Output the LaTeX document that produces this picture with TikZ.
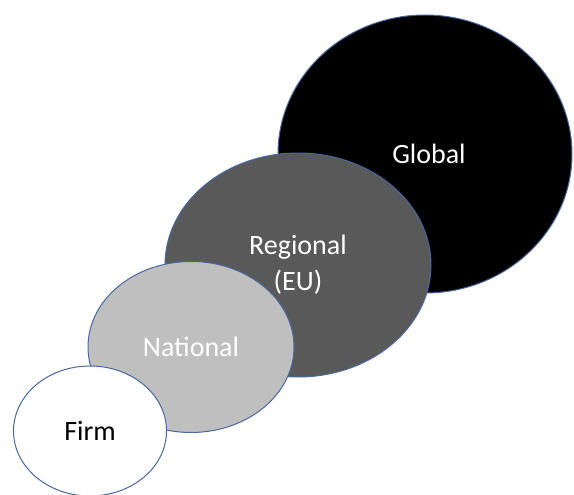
\documentclass[tikz,border=0pt]{standalone}
\usepackage{fontspec}
\setmainfont{Carlito}
\usetikzlibrary{shapes.geometric}
\definecolor{rim}{RGB}{72,104,160}
\definecolor{darkfill}{RGB}{89,89,89}
\definecolor{lightfill}{RGB}{191,191,191}
\tikzset{
  scopeoval/.style={ellipse, draw=rim, line width=1pt, inner sep=0pt,
    align=center, font=\fontsize{28}{36}\selectfont},
}
\begin{document}
\begin{tikzpicture}[x=1pt,y=-1pt]
  \useasboundingbox (0,0) rectangle (574,495);
  % nested scopes, drawn from the widest to the narrowest
  \node[scopeoval, fill=black, text=white, minimum width=294pt, minimum height=278pt]
    (global) at (425,154) {\hspace*{8pt}Global};
  \node[scopeoval, fill=darkfill, text=white, minimum width=266pt, minimum height=224pt]
    (regional) at (298,265) {Regional\\(EU)};
  \node[scopeoval, fill=lightfill, text=white, minimum width=206pt, minimum height=171pt]
    (national) at (191,347) {National};
  \node[scopeoval, fill=white, text=black, minimum width=153pt, minimum height=130pt]
    (firm) at (90,431) {Firm};
\end{tikzpicture}
\end{document}
